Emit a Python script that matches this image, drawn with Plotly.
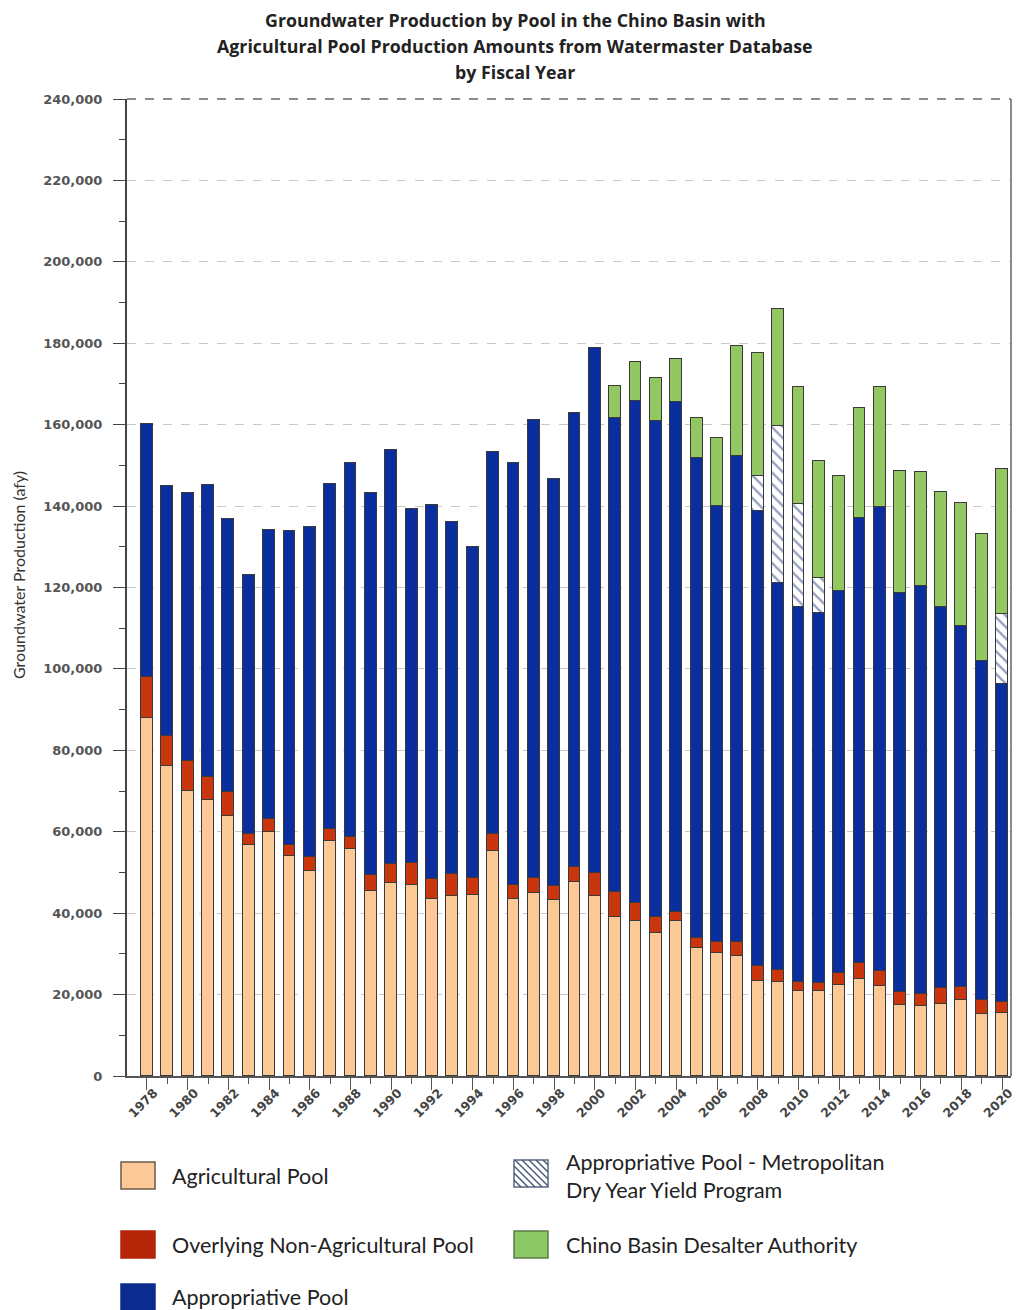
import plotly.graph_objects as go

years = list(range(1978, 2021))

agricultural_pool = [87900, 76100, 70000, 67700, 63900, 56700, 60000, 54100, 50400, 57800,
                     55800, 45500, 47300, 47000, 43400, 44100, 44400, 55300, 43400, 44900,
                     43200, 47700, 44200, 39100, 38100, 35200, 38100, 31500, 30300, 29500,
                     23400, 23200, 21000, 21000, 22400, 23900, 22100, 17400, 17300, 17600,
                     18700, 15200, 15600]

overlying_non_ag = [10100, 7400, 7500, 5800, 5900, 2700, 3100, 2600, 3500, 2900,
                    3000, 3900, 4800, 5400, 5000, 5400, 4300, 4100, 3400, 3800,
                    3500, 3700, 5600, 6200, 4500, 3900, 2200, 2300, 2700, 3500,
                    3500, 2800, 2200, 1900, 3000, 3800, 3800, 3300, 2800, 3900,
                    3100, 3500, 2600]

appropriative_pool = [62200, 61400, 65600, 71700, 67000, 63700, 71000, 77200, 81000, 84800,
                      91900, 93700, 101700, 86800, 91900, 86700, 81200, 93800, 103900, 112400,
                      99900, 111400, 129000, 116300, 123300, 121900, 125300, 118100, 107100, 119400,
                      112000, 95000, 91900, 90800, 93800, 109300, 113900, 97900, 100300, 93800,
                      88700, 83300, 78000]

dry_year_yield = [None] * 30 + [8600, 38700, 25400, 8600] + [None] * 8 + [17200]

desalter = [None] * 23 + [7900, 9400, 10400, 10500, 9800, 16700, 27000,
                          30200, 28800, 28700, 28800, 28300, 27000, 29400, 30000, 28000, 28100,
                          30200, 31100, 35600]

tick_years = list(range(1978, 2021, 2))

W, H = 1019, 1310
ML, MR, MT, MB = 127, 8, 99, 234
PW, PH = W - ML - MR, H - MT - MB

def px(x):
    return (x - ML) / PW

def py(y):
    return (H - MB - y) / PH

C_AG = "#FBC896"
C_OV = "#C9360E"
C_AP = "#0B2E9E"
C_DS = "#92C761"
OUTLINE = "#3a3a3a"
BW = 0.58

fig = go.Figure()
common = dict(width=BW, marker_line_color=OUTLINE, marker_line_width=1, showlegend=False)
fig.add_trace(go.Bar(x=years, y=agricultural_pool, name="Agricultural Pool",
                     marker_color=C_AG, **common))
fig.add_trace(go.Bar(x=years, y=overlying_non_ag, name="Overlying Non-Agricultural Pool",
                     marker_color=C_OV, **common))
fig.add_trace(go.Bar(x=years, y=appropriative_pool, name="Appropriative Pool",
                     marker_color=C_AP, **common))
fig.add_trace(go.Bar(x=years, y=dry_year_yield,
                     name="Appropriative Pool - Metropolitan Dry Year Yield Program",
                     marker=dict(color="white",
                                 pattern=dict(shape="\\", fgcolor="#2B3F80", bgcolor="white",
                                              size=8, solidity=0.3)),
                     **common))
fig.add_trace(go.Bar(x=years, y=desalter, name="Chino Basin Desalter Authority",
                     marker_color=C_DS, **common))

shapes = []
shapes.append(dict(type="line", xref="paper", yref="paper", x0=0, x1=1, y0=1, y1=1,
                   line=dict(color="#666", width=1.5, dash="dash")))
shapes.append(dict(type="line", xref="paper", yref="paper", x0=1, x1=1, y0=0, y1=1,
                   line=dict(color="#8a8a8a", width=2)))

annotations = []
title_lines = ["Groundwater Production by Pool in the Chino Basin with",
               "Agricultural Pool Production Amounts from Watermaster Database",
               "by Fiscal Year"]
for i, t in enumerate(title_lines):
    annotations.append(dict(text=f"<b>{t}</b>", xref="paper", yref="paper",
                            x=px(515), y=py(20 + 26 * i), showarrow=False,
                            xanchor="center", yanchor="middle",
                            font=dict(family="Open Sans", size=17.8, color="#222")))
annotations.append(dict(text="Groundwater Production (afy)", xref="paper", yref="paper",
                        x=px(18), y=py(575), textangle=-90, showarrow=False,
                        xanchor="center", yanchor="middle",
                        font=dict(family="Lato", size=16, color="#333")))

def swatch(x0, y0, x1, y1, color, line_color):
    shapes.append(dict(type="rect", xref="paper", yref="paper",
                       x0=px(x0), x1=px(x1), y0=py(y1), y1=py(y0),
                       fillcolor=color, line=dict(color=line_color, width=1.5)))

def label(text, x, y):
    annotations.append(dict(text=text, xref="paper", yref="paper", x=px(x), y=py(y),
                            showarrow=False, xanchor="left", yanchor="middle",
                            font=dict(family="Lato", size=21.5, color="#222")))

swatch(121, 1162, 155, 1189, C_AG, "#6b5a48")
label("Agricultural Pool", 170, 1176)
swatch(121, 1231, 155, 1258, "#B52508", "#B52508")
label("Overlying Non-Agricultural Pool", 170, 1245)
swatch(121, 1284, 155, 1310, "#0B2C8E", "#0B2C8E")
label("Appropriative Pool", 170, 1297)
swatch(514, 1231, 548, 1258, "#8CC865", "#5b7a48")
label("Chino Basin Desalter Authority", 564, 1245)

hx0, hy0, hx1, hy1 = 514, 1160, 548, 1187
swatch(hx0, hy0, hx1, hy1, "white", "#5a6a80")
step = 7
for c in range(-(hy1 - hy0), (hx1 - hx0), step):
    pts = []
    for y in (hy0, hy1):
        x = hx0 + c + (y - hy0)
        if hx0 <= x <= hx1:
            pts.append((x, y))
    for x in (hx0, hx1):
        y = hy0 + (x - hx0) - c
        if hy0 <= y <= hy1:
            pts.append((x, y))
    pts = sorted(set(pts))
    if len(pts) >= 2:
        (a, b), (cc, d) = pts[0], pts[-1]
        shapes.append(dict(type="line", xref="paper", yref="paper",
                           x0=px(a), y0=py(b), x1=px(cc), y1=py(d),
                           line=dict(color="#4a5a78", width=1.5)))
label("Appropriative Pool - Metropolitan", 564, 1162)
label("Dry Year Yield Program", 564, 1190)

fig.update_layout(
    width=W, height=H, autosize=False,
    margin=dict(l=ML, r=MR, t=MT, b=MB, pad=0),
    paper_bgcolor="white", plot_bgcolor="white",
    barmode="stack", bargap=0,
    shapes=shapes, annotations=annotations,
    showlegend=False,
    xaxis=dict(range=[1977.02, 2020.44], tickmode="array", tickvals=tick_years,
               ticktext=[str(y) for y in tick_years], tickangle=-45,
               ticks="outside", ticklen=12, tickcolor="#555", tickwidth=1,
               showline=True, linecolor="#555", linewidth=1.5,
               showgrid=False, zeroline=False, automargin=False,
               ticklabelshift=7, ticklabelstandoff=-9,
               tickfont=dict(family="DejaVu Sans", size=12.5, color="#444", weight="bold"),
               minor=dict(tickmode="linear", tick0=1977, dtick=1, ticks="outside",
                          ticklen=6, tickcolor="#555", showgrid=False)),
    yaxis=dict(range=[0, 240000], dtick=20000, tickformat=",",
               ticks="outside", ticklen=12, tickcolor="#444", tickwidth=1,
               showline=True, linecolor="#444", linewidth=2,
               showgrid=True, gridcolor="#c8c8c8", griddash="dash", gridwidth=1,
               zeroline=False, ticklabelstandoff=8, automargin=False,
               tickfont=dict(family="DejaVu Sans", size=13, color="#555", weight="bold"),
               minor=dict(dtick=10000, ticks="outside", ticklen=6, tickcolor="#444",
                          showgrid=False)),
)

fig.write_html("out.html", config={"displayModeBar": False},
               post_script="document.body.style.margin='0';")
